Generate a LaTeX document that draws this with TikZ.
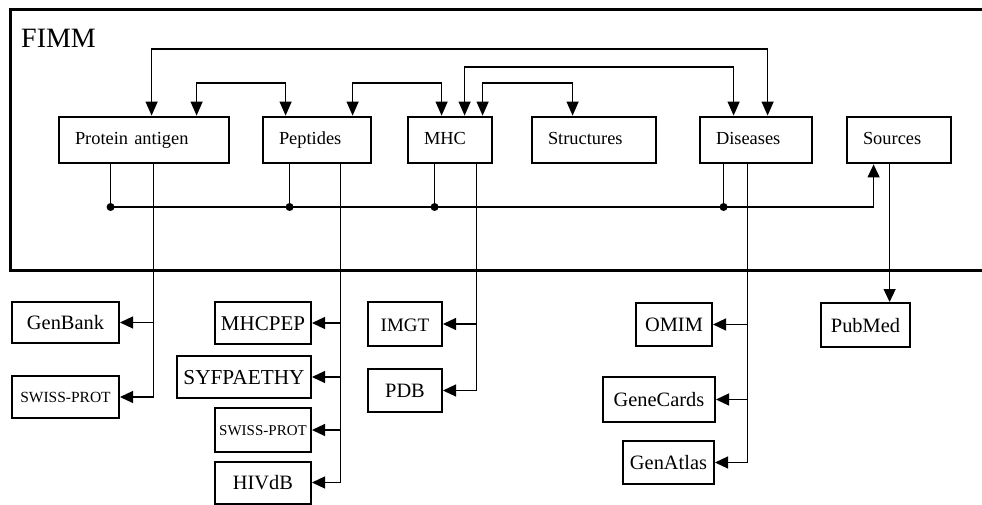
\documentclass[tikz,border=0pt]{standalone}
\usepackage{fontspec}
\setmainfont{Liberation Serif}
\usetikzlibrary{arrows.meta}
\begin{document}
\begin{tikzpicture}[x=1pt,y=-1pt,
  topbox/.style={draw, line width=2.8pt, inner xsep=16pt, inner ysep=0pt, minimum height=46pt, align=left, text height=13pt, text depth=4pt, font=\fontsize{18.4}{20}\selectfont},
  dbbox/.style={draw, line width=2pt, inner sep=0pt, text height=14pt, text depth=0pt, font=\fontsize{20.4}{22}\selectfont},
  swiss/.style={text height=10pt, text depth=0pt},
  conn/.style={line width=1.2pt},
  tip/.style={-{Triangle[width=12pt,length=13pt]}},
  both/.style={{Triangle[width=12pt,length=14pt]}-{Triangle[width=12pt,length=14pt]}},
  dot/.style={circle, fill, inner sep=0pt, minimum size=8pt}
]
\useasboundingbox (0,0) rectangle (982,505);

% frame
\draw[line width=3pt] (982,10) -- (10,10) -- (10,270) -- (982,270);
\node[anchor=base west, inner sep=0pt, font=\fontsize{28}{30}\selectfont] (fimm) at (21,48) {FIMM};

% top boxes
\node[topbox, text width=138pt] (pa) at (144,140) {Protein antigen};
\node[topbox, text width=76pt] (pe) at (317,140) {Peptides};
\node[topbox, text width=52pt] (mhc) at (450,140) {MHC};
\node[topbox, text width=92pt] (st) at (594,140) {Structures};
\node[topbox, text width=80pt] (di) at (756,140) {Diseases};
\node[topbox, text width=72pt] (so) at (899,140) {Sources};

% database boxes
\node[dbbox, minimum width=107pt, minimum height=41pt] (gb) at (65.5,322.5) {GenBank};
\node[dbbox, swiss, minimum width=107pt, minimum height=42pt, font=\fontsize{15.5}{17}\selectfont] (sp1) at (65.5,397) {SWISS-PROT};
\node[dbbox, minimum width=96pt, minimum height=42pt, font=\fontsize{21}{23}\selectfont] (mp) at (263,323) {MHCPEP};
\node[dbbox, minimum width=134pt, minimum height=42pt, font=\fontsize{21.3}{23}\selectfont] (sy) at (244,377) {SYFPAETHY};
\node[dbbox, swiss, minimum width=96pt, minimum height=44pt, font=\fontsize{15}{17}\selectfont] (sp2) at (263,430) {SWISS-PROT};
\node[dbbox, minimum width=96pt, minimum height=42pt] (hiv) at (263,482.5) {HIVdB};
\node[dbbox, minimum width=74pt, minimum height=44pt, font=\fontsize{19}{21}\selectfont] (imgt) at (405,324) {IMGT};
\node[dbbox, minimum width=74pt, minimum height=43pt] (pdb) at (405,390.5) {PDB};
\node[dbbox, minimum width=76pt, minimum height=43pt] (omim) at (674,324.5) {OMIM};
\node[dbbox, minimum width=112pt, minimum height=45pt] (gc) at (659,399.5) {GeneCards};
\node[dbbox, minimum width=91pt, minimum height=43pt] (ga) at (668.5,462.5) {GenAtlas};
\node[dbbox, minimum width=89pt, minimum height=44pt] (pm) at (865.5,325) {PubMed};

% levels
\coordinate (yA) at (0,49);
\coordinate (yB) at (0,67);
\coordinate (yC) at (0,83);
\coordinate (bus) at (0,207);

% top attachment points
\coordinate (pa1) at ([xshift=94pt]pa.north west);
\coordinate (pa2) at ([xshift=139pt]pa.north west);
\coordinate (pe1) at ([xshift=24pt]pe.north west);
\coordinate (pe2) at ([xshift=91pt]pe.north west);
\coordinate (mh1) at ([xshift=35pt]mhc.north west);
\coordinate (mh2) at ([xshift=58pt]mhc.north west);
\coordinate (mh3) at ([xshift=76pt]mhc.north west);
\coordinate (st1) at ([xshift=42pt]st.north west);
\coordinate (di1) at ([xshift=35pt]di.north west);
\coordinate (di2) at ([xshift=69pt]di.north west);

% bottom attachment points
\coordinate (pas1) at ([xshift=53pt]pa.south west);
\coordinate (pas2) at ([xshift=96pt]pa.south west);
\coordinate (pes1) at ([xshift=28pt]pe.south west);
\coordinate (pes2) at ([xshift=79pt]pe.south west);
\coordinate (mhs1) at ([xshift=28pt]mhc.south west);
\coordinate (mhs2) at ([xshift=70pt]mhc.south west);
\coordinate (dis1) at ([xshift=25pt]di.south west);
\coordinate (dis2) at ([xshift=49pt]di.south west);
\coordinate (sos1) at ([xshift=28pt]so.south west);
\coordinate (sos2) at ([xshift=44pt]so.south west);

% upper links
\draw[conn,both] (pa1) |- (di2 |- yA) -- (di2);
\draw[conn,both] (mh2) |- (di1 |- yB) -- (di1);
\draw[conn,both] (pa2) |- (pe1 |- yC) -- (pe1);
\draw[conn,both] (pe2) |- (mh1 |- yC) -- (mh1);
\draw[conn,both] (mh3) |- (st1 |- yC) -- (st1);

% bus to Sources
\node[dot] (d1) at (pas1 |- bus) {};
\node[dot] (d2) at (pes1 |- bus) {};
\node[dot] (d3) at (mhs1 |- bus) {};
\node[dot] (d4) at (dis1 |- bus) {};
\draw[conn] (pas1) -- (d1.center);
\draw[conn] (pes1) -- (d2.center);
\draw[conn] (mhs1) -- (d3.center);
\draw[conn] (dis1) -- (d4.center);
\draw[conn,tip] (d1.center) -| (sos1);

% external databases
\draw[conn,tip] (pas2) |- (sp1.east);
\draw[conn,tip] (pas2 |- gb.east) -- (gb.east);

\draw[conn,tip] (pes2) |- (hiv.east);
\draw[conn,tip] (pes2 |- mp.east) -- (mp.east);
\draw[conn,tip] (pes2 |- sy.east) -- (sy.east);
\draw[conn,tip] (pes2 |- sp2.east) -- (sp2.east);

\draw[conn,tip] (mhs2) |- (pdb.east);
\draw[conn,tip] (mhs2 |- imgt.east) -- (imgt.east);

\draw[conn,tip] (dis2) |- (ga.east);
\draw[conn,tip] (dis2 |- omim.east) -- (omim.east);
\draw[conn,tip] (dis2 |- gc.east) -- (gc.east);

\draw[conn,tip] (sos2) -- (sos2 |- pm.north);
\end{tikzpicture}
\end{document}
